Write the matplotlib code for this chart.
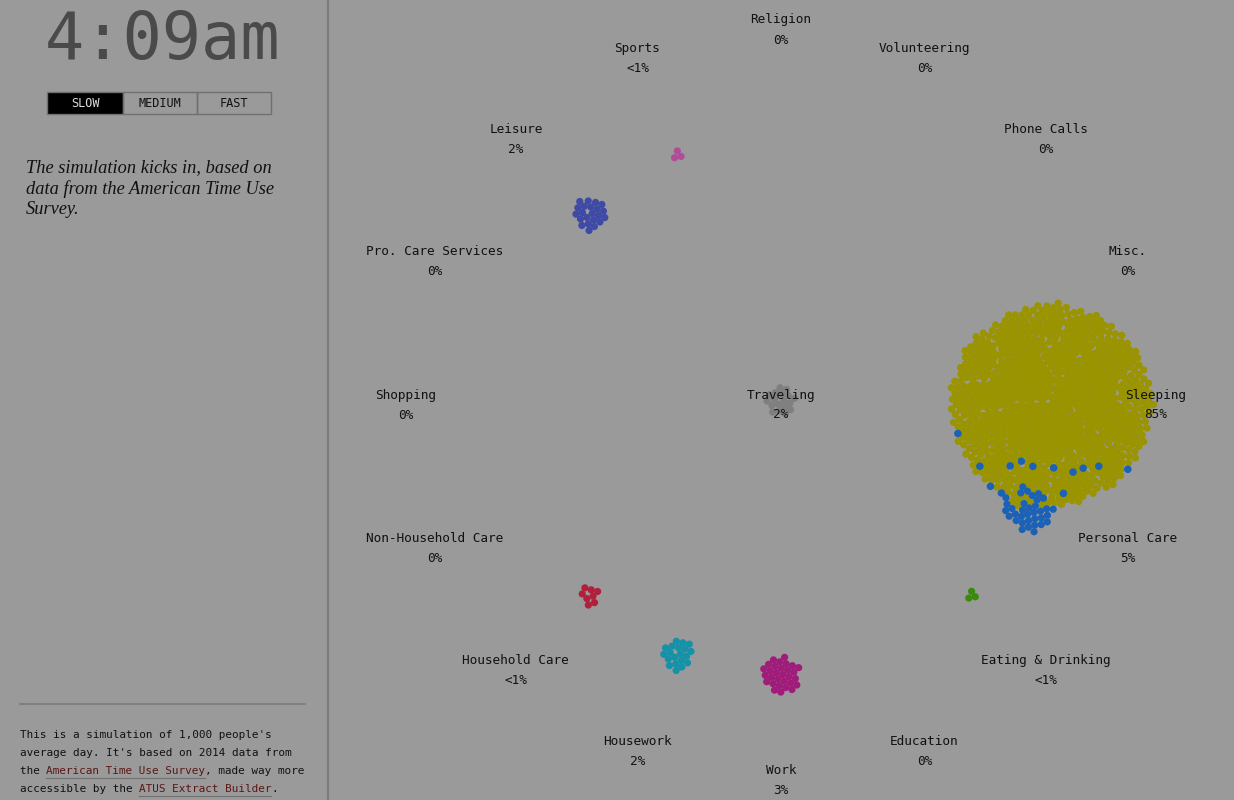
import numpy as np
import matplotlib
matplotlib.use("Agg")
import matplotlib.pyplot as plt
from matplotlib.patches import Rectangle

# ---------------- data ----------------
activities = ["Religion", "Volunteering", "Phone Calls", "Misc.", "Sleeping",
              "Personal Care", "Eating & Drinking", "Education", "Work",
              "Housework", "Household Care", "Non-Household Care", "Shopping",
              "Pro. Care Services", "Leisure", "Sports"]
pct_labels = ["0%", "0%", "0%", "0%", "85%", "5%", "<1%", "0%", "3%",
              "2%", "<1%", "0%", "0%", "0%", "2%", "<1%"]
people = [0, 0, 0, 0, 848, 48, 3, 0, 30, 20, 8, 0, 0, 0, 22, 3]
# people still moving: (from activity, to activity, count)
in_transit = [("Sleeping", "Personal Care", 14)]
colors = ["#888888", "#888888", "#888888", "#888888", "#9a9400", "#1b62b6",
          "#3a8a0e", "#888888", "#a01c7a", "#1592a8", "#b0203c", "#888888",
          "#888888", "#888888", "#3e4aa6", "#b04c98"]
center_label = "Traveling"
center_pct = "2%"
center_people = 18
center_color = "#7f7f7f"

clock = "4:09am"
speeds = ["SLOW", "MEDIUM", "FAST"]
intro = ["The simulation kicks in, based on",
         "data from the American Time Use",
         "Survey."]
about = [[("This is a simulation of 1,000 people's", False)],
         [("average day. It's based on 2014 data from", False)],
         [("the ", False), ("American Time Use Survey", True), (", made way more", False)],
         [("accessible by the ", False), ("ATUS Extract Builder", True), (".", False)]]

# ---------------- layout ----------------
W, H = 1234, 800
BG = "#9a9a9a"
CX, CY = 781, 405
R_LABEL = 375
R_FOCUS = 270
D = 6.6          # collision diameter in px
DOT_S = 27       # marker area in pt^2

fig = plt.figure(figsize=(W / 100, H / 100), dpi=100)
fig.patch.set_facecolor(BG)
ax = fig.add_axes([0, 0, 1, 1])
ax.set_xlim(0, W)
ax.set_ylim(H, 0)
ax.axis("off")
ax.set_facecolor(BG)

n = len(activities)
ang = np.arange(n) * 2 * np.pi / n
lab_x = CX + R_LABEL * np.sin(ang)
lab_y = CY - R_LABEL * np.cos(ang)
foc_x = CX + R_FOCUS * np.sin(ang)
foc_y = CY - R_FOCUS * np.cos(ang)

# physical group sizes (people in transit still sit in their old cluster)
phys = list(people)
for src, dst, cnt in in_transit:
    phys[activities.index(src)] += cnt
    phys[activities.index(dst)] -= cnt

fx, fy, cols, grp = [], [], [], []
px, py = [], []
golden = np.pi * (3 - np.sqrt(5))
groups = [(phys[i], foc_x[i], foc_y[i], colors[i]) for i in range(n)]
groups.append((center_people, CX, CY - 4, center_color))
for gi, (cnt, gx, gy, c) in enumerate(groups):
    k = np.arange(cnt)
    rr = 0.53 * D * np.sqrt(k + 0.5)
    th = k * golden
    px.extend(gx + rr * np.cos(th))
    py.extend(gy + rr * np.sin(th))
    fx.extend([gx] * cnt)
    fy.extend([gy] * cnt)
    cols.extend([c] * cnt)
    grp.extend([gi] * cnt)
P = np.column_stack([px, py]).astype(float)
F = np.column_stack([fx, fy]).astype(float)
cols = np.array(cols, dtype=object)
grp = np.array(grp)
N = len(P)


def neighbours(P):
    diff = P[:, None, :] - P[None, :, :]
    d = np.sqrt((diff ** 2).sum(-1))
    return np.nonzero(np.triu(d < 2.5 * D, 1))


STEPS = 700
for step in range(STEPS):
    if step % 8 == 0:
        ii, jj = neighbours(P)
    g = 0.002 * max(0.0, 1 - step / (0.7 * STEPS))
    P += g * (F - P)
    dv = P[ii] - P[jj]
    dist = np.sqrt((dv ** 2).sum(1))
    ov = np.clip(D - dist, 0, None)
    m = dv / np.maximum(dist, 1e-6)[:, None] * (ov * 0.3)[:, None]
    P[:, 0] += np.bincount(ii, m[:, 0], N) - np.bincount(jj, m[:, 0], N)
    P[:, 1] += np.bincount(ii, m[:, 1], N) - np.bincount(jj, m[:, 1], N)

# recolour the movers: nodes of the source cluster on the side facing the target
movers = np.zeros(N, dtype=bool)
for src, dst, cnt in in_transit:
    si, di = activities.index(src), activities.index(dst)
    idx = np.where(grp == si)[0]
    cen = P[idx].mean(0)
    to_dst = np.array([foc_x[di], foc_y[di]]) - cen
    to_dst /= np.linalg.norm(to_dst)
    rel = P[idx] - cen
    proj = rel @ to_dst
    band = idx[(proj > 45) & (proj < 100)]
    band = band[np.argsort(P[band, 0])]
    pick = band[np.linspace(0, len(band) - 1, cnt).astype(int)]
    cols[pick] = colors[di]
    movers[pick] = True

trav = cols == center_color
ax.scatter(P[trav, 0], P[trav, 1], s=DOT_S, c=list(cols[trav]), linewidths=0, zorder=2)

# labels
lab_font = dict(family="DejaVu Sans Mono", fontsize=9.2, color="#111111",
                ha="center", va="center", zorder=5)
for i in range(n):
    ax.text(lab_x[i], lab_y[i] - 10, activities[i], **lab_font)
    ax.text(lab_x[i], lab_y[i] + 10, pct_labels[i], **lab_font)
ax.text(CX, CY - 10, center_label, **lab_font)
ax.text(CX, CY + 10, center_pct, **lab_font)

rest = ~trav & ~movers
ax.scatter(P[rest, 0], P[rest, 1], s=DOT_S, c=list(cols[rest]), linewidths=0, zorder=3)
ax.scatter(P[movers, 0], P[movers, 1], s=DOT_S * 1.1, c=list(cols[movers]),
           linewidths=0, zorder=4)

# sidebar
ax.plot([328, 328], [0, H], color="#7d7d7d", lw=1.5, zorder=1)
ax.text(163, 41, clock, family="DejaVu Sans Mono", fontsize=47, color="#4a4a4a",
        ha="center", va="center")
bx = [47, 123, 197, 271]
for i, s in enumerate(speeds):
    active = i == 0
    ax.add_patch(Rectangle((bx[i], 92), bx[i + 1] - bx[i], 22,
                           facecolor="#000000" if active else "none",
                           edgecolor="#707070", lw=1, zorder=2))
    ax.text((bx[i] + bx[i + 1]) / 2, 103.5, s, family="DejaVu Sans Mono",
            fontsize=8.6, color="#dddddd" if active else "#111111",
            ha="center", va="center", zorder=3)
for j, line in enumerate(intro):
    ax.text(26, 168 + 21 * j, line, family="Liberation Serif", style="italic",
            fontsize=13.2, color="#111111", ha="left", va="center")
ax.plot([20, 305], [704, 704], color="#7a7a7a", lw=1.2)
fs_about = 7.9
cw = fs_about * 0.602 * 100 / 72
for j, parts in enumerate(about):
    x = 20
    y = 735 + 18 * j
    for txt, link in parts:
        ax.text(x, y, txt, family="DejaVu Sans Mono", fontsize=fs_about,
                color="#5c1616" if link else "#111111", ha="left", va="center")
        if link:
            ax.plot([x, x + cw * len(txt)], [y + 7, y + 7], color="#6f6f6f", lw=0.8)
        x += cw * len(txt)

fig.savefig("out.png", dpi=100, facecolor=BG)
